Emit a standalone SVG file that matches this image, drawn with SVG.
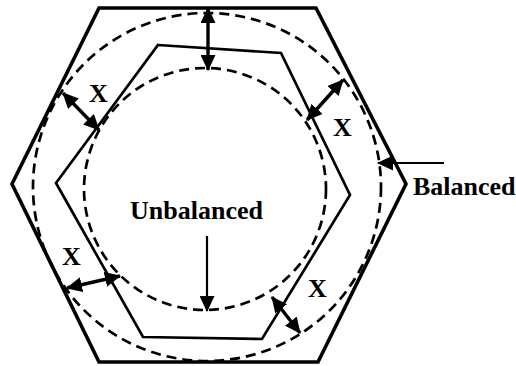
<svg xmlns="http://www.w3.org/2000/svg" width="516" height="366" viewBox="0 0 516 366">
<defs>
<marker id="ah" markerUnits="userSpaceOnUse" markerWidth="16" markerHeight="15" refX="15" refY="7.5" orient="auto-start-reverse" viewBox="0 0 16 15">
<path d="M0,0 L16,7.5 L0,15 Z" fill="#000"/>
</marker>
<style>
.outer{fill:none;stroke:#000;stroke-width:3.6;stroke-linejoin:miter}
.inner{fill:none;stroke:#000;stroke-width:2.7}
.dash{fill:none;stroke:#000;stroke-width:2.7;stroke-dasharray:10 6}
.arr{stroke:#000;stroke-width:3.4;fill:none}
.one{stroke:#000;stroke-width:2.2;fill:none}
text{font-family:"Liberation Serif","Times New Roman",serif;font-weight:bold;font-size:26px;fill:#000}
</style>
</defs>
<g id="outer-hexagon"><polygon class="outer" points="99,8 316,8 406,184 318,362 99,362 12,184"/></g>
<g id="balanced-circle"><circle class="dash" cx="207" cy="187" r="174"/></g>
<g id="unbalanced-circle"><circle class="dash" cx="205" cy="189" r="121"/></g>
<g id="inner-hexagon"><polygon class="inner" points="158,45 281,53 350,195 262,339 143,337 56,183"/></g>
<g id="connectors">
<line class="arr" x1="208" y1="8" x2="208" y2="70" marker-start="url(#ah)" marker-end="url(#ah)"/>
<line class="arr" x1="63" y1="93" x2="99" y2="130" marker-start="url(#ah)" marker-end="url(#ah)"/>
<line class="arr" x1="307" y1="120" x2="343" y2="80" marker-start="url(#ah)" marker-end="url(#ah)"/>
<line class="arr" x1="67" y1="288" x2="120" y2="276" marker-start="url(#ah)" marker-end="url(#ah)"/>
<line class="arr" x1="272" y1="297" x2="300" y2="333" marker-start="url(#ah)" marker-end="url(#ah)"/>
<line class="one" x1="444" y1="163" x2="378" y2="163" marker-end="url(#ah)"/>
<line class="one" x1="207" y1="236" x2="207" y2="311" marker-end="url(#ah)"/>
</g>
<g id="labels">
<text x="89" y="102">X</text>
<text x="333" y="136">X</text>
<text x="62" y="265">X</text>
<text x="308" y="297">X</text>
<text x="413" y="195">Balanced</text>
<text x="130" y="219">Unbalanced</text>
</g>
</svg>
